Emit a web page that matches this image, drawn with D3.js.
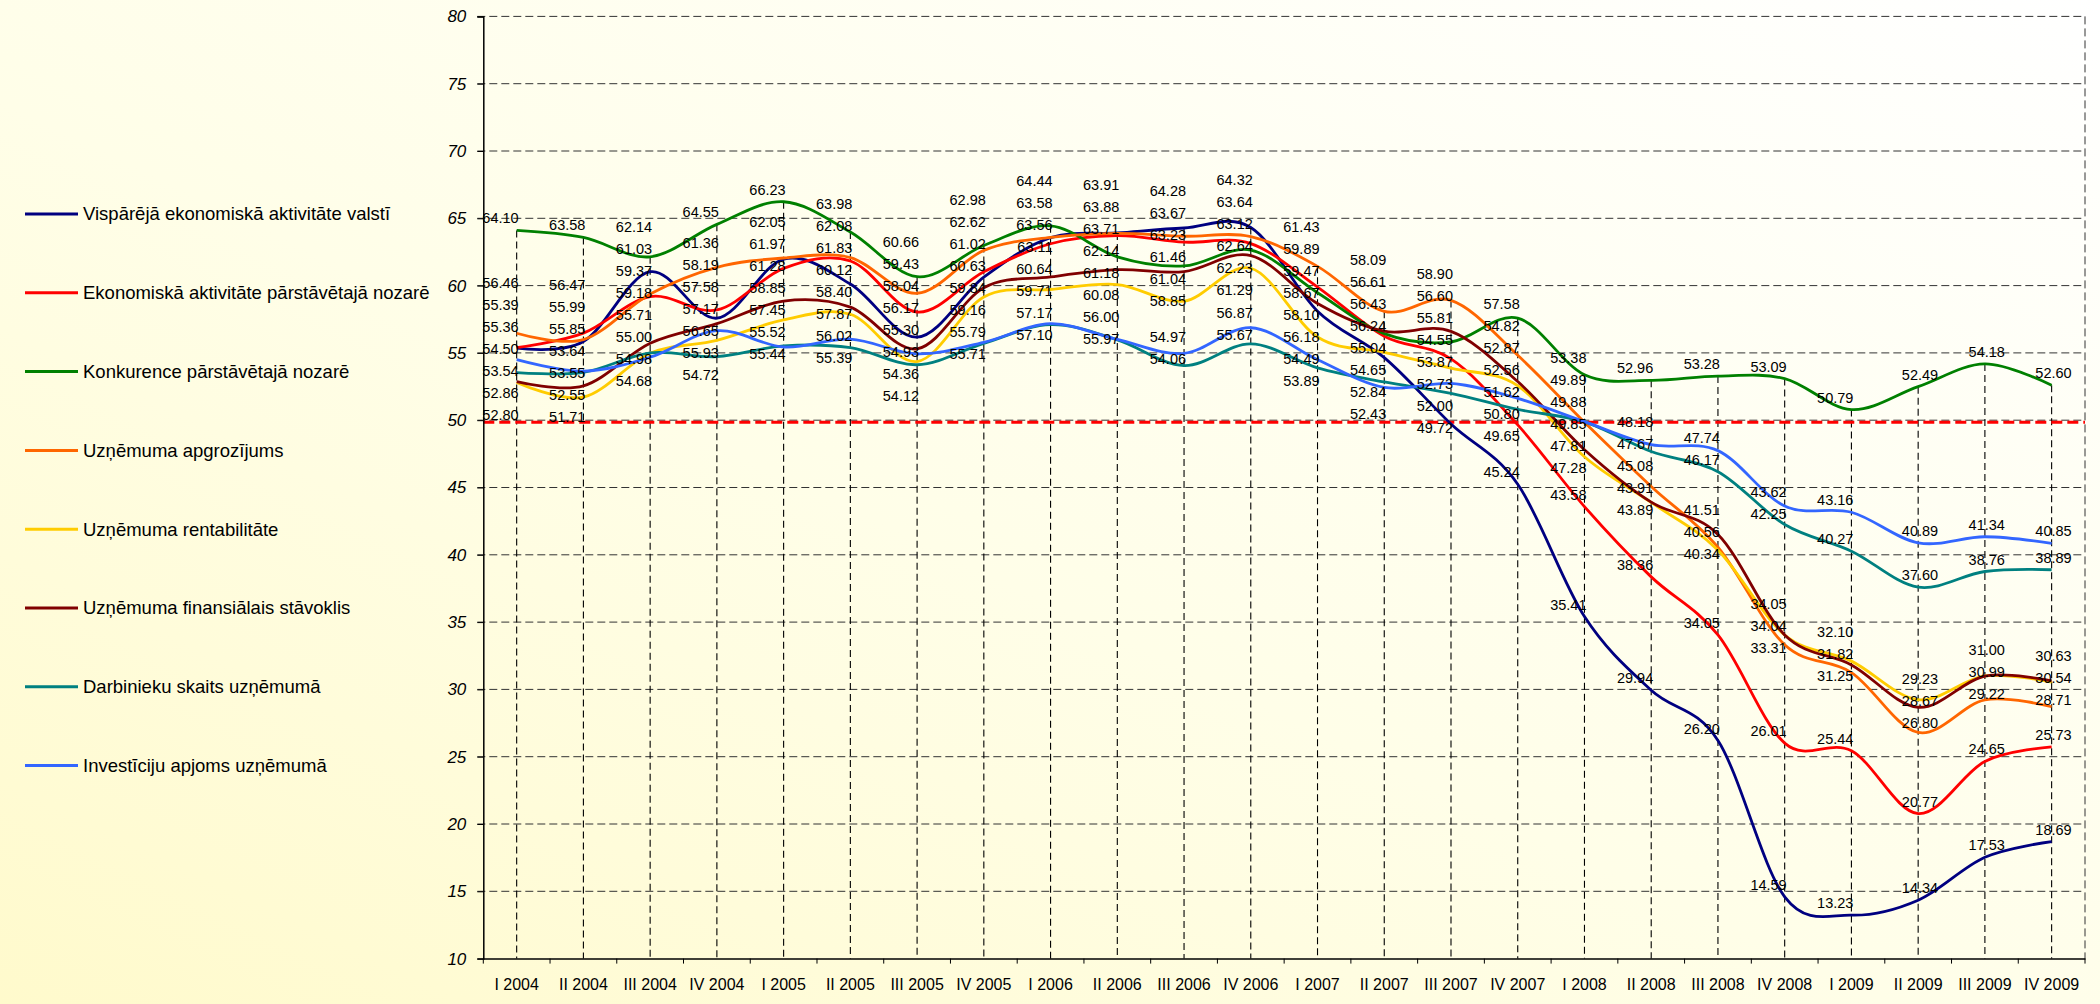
<!DOCTYPE html>
<html><head><meta charset="utf-8">
<script src="https://cdn.jsdelivr.net/npm/d3@7/dist/d3.min.js"></script>
<style>
html,body{margin:0;padding:0;overflow:hidden;background:#fff}
svg{display:block}
text{font-family:"Liberation Sans",Arial,sans-serif;fill:#000}
</style>
</head><body>
<svg id="chart" width="2100" height="1004"></svg>
<script>
// ---------------- DATA ----------------
const categories = ["I 2004","II 2004","III 2004","IV 2004","I 2005","II 2005","III 2005","IV 2005",
  "I 2006","II 2006","III 2006","IV 2006","I 2007","II 2007","III 2007","IV 2007",
  "I 2008","II 2008","III 2008","IV 2008","I 2009","II 2009","III 2009","IV 2009"];

const seriesNames = [
  "Vispārējā ekonomiskā aktivitāte valstī",
  "Ekonomiskā aktivitāte pārstāvētajā nozarē",
  "Konkurence pārstāvētajā nozarē",
  "Uzņēmuma apgrozījums",
  "Uzņēmuma rentabilitāte",
  "Uzņēmuma finansiālais stāvoklis",
  "Darbinieku skaits uzņēmumā",
  "Investīciju apjoms uzņēmumā"
];

const economyActivity = [55.36,55.85,61.03,57.58,61.97,60.12,56.17,60.63,63.56,63.91,64.28,64.32,58.10,54.65,49.72,45.24,35.41,29.94,26.20,14.59,13.23,14.34,17.53,18.69];
const sectorActivity  = [55.39,56.47,59.18,58.19,61.28,61.83,58.04,61.02,63.11,63.71,63.23,63.12,59.89,56.24,54.55,49.65,43.58,38.36,34.05,26.01,25.44,20.77,24.65,25.73];
const competition     = [64.10,63.58,62.14,64.55,66.23,63.98,60.66,62.98,64.44,62.14,61.46,62.64,59.47,56.43,55.81,57.58,53.38,52.96,53.28,53.09,50.79,52.49,54.18,52.60];
const turnover        = [56.46,55.99,59.37,61.36,62.05,62.08,59.43,62.62,63.58,63.88,63.67,63.64,61.43,58.09,58.90,54.82,49.85,45.08,40.56,33.31,31.25,26.80,29.22,28.71];
const profitability   = [52.80,51.71,54.98,55.93,57.45,57.87,54.36,59.16,59.71,60.08,58.85,61.29,56.18,55.04,53.87,52.56,47.28,43.89,40.34,34.04,32.10,29.23,31.00,30.54];
const financialState  = [52.86,52.55,55.71,57.17,58.85,58.40,55.30,59.84,60.64,61.18,61.04,62.23,58.67,56.61,56.60,52.87,47.81,43.91,41.51,34.05,31.82,28.67,30.99,30.63];
const employees       = [53.54,53.55,55.00,54.72,55.52,55.39,54.12,55.71,57.10,55.97,54.06,55.67,53.89,52.84,52.00,50.80,49.88,47.67,46.17,42.25,40.27,37.60,38.76,38.89];
const investment      = [54.50,53.64,54.68,56.65,55.44,56.02,54.93,55.79,57.17,56.00,54.97,56.87,54.49,52.43,52.73,51.62,49.89,48.18,47.74,43.62,43.16,40.89,41.34,40.85];

const yTicks = [10,15,20,25,30,35,40,45,50,55,60,65,70,75,80];
const thresholdValue = 50;

// ---------------- STYLE ----------------
const seriesColors = ["#000080","#FF0000","#008000","#FF6600","#FFCC00","#800000","#008080","#3366FF"];
const seriesValues = [economyActivity,sectorActivity,competition,turnover,profitability,financialState,employees,investment];
const series = seriesNames.map((n,k)=>({name:n, values:seriesValues[k], color:seriesColors[k]}));

const W = 2100, H = 1004;
const plot = {left:483.3, right:2085, top:16.4, bottom:958.6};

const svg = d3.select("#chart");
const defs = svg.append("defs");
const grad = defs.append("linearGradient").attr("id","bg")
  .attr("x1","0").attr("y1","1").attr("x2","1").attr("y2","0");
grad.append("stop").attr("offset","0").attr("stop-color","#FFFACC");
grad.append("stop").attr("offset","0.45").attr("stop-color","#FFFEE8");
grad.append("stop").attr("offset","1").attr("stop-color","#FFFFFF");
svg.append("rect").attr("width",W).attr("height",H).attr("fill","url(#bg)");

const x = d3.scaleBand().domain(categories).range([plot.left, plot.right]).padding(0);
const cx = c => x(c) + x.bandwidth()/2;
const y = d3.scaleLinear().domain([10,80]).range([plot.bottom, plot.top]);

// horizontal gridlines (with outside tick part)
const gGrid = svg.append("g");
gGrid.selectAll("line.h").data(yTicks.filter(t=>t!==10)).join("line")
  .attr("x1", plot.left-6).attr("x2", plot.right)
  .attr("y1", d=>y(d)).attr("y2", d=>y(d))
  .attr("stroke","#333").attr("stroke-width",1).attr("stroke-dasharray","8,4");
// right border
gGrid.append("line").attr("x1",plot.right).attr("x2",plot.right)
  .attr("y1",y(80)).attr("y2",y(10))
  .attr("stroke","#333").attr("stroke-width",1).attr("stroke-dasharray","8,4");

// drop lines from the highest point in each category
gGrid.selectAll("line.drop").data(categories).join("line")
  .attr("x1", c=>cx(c)).attr("x2", c=>cx(c))
  .attr("y1", (c,i)=>y(d3.max(series, s=>s.values[i])))
  .attr("y2", y(10))
  .attr("stroke","#000").attr("stroke-width",1.1).attr("stroke-dasharray","7,4");

// threshold line
svg.append("line").attr("x1",plot.left).attr("x2",plot.right)
  .attr("y1",y(thresholdValue)+2).attr("y2",y(thresholdValue)+2)
  .attr("stroke","#FF0000").attr("stroke-width",3).attr("stroke-dasharray","11,5");

// Y axis
const yAxis = d3.axisLeft(y).tickValues(yTicks).tickSize(6).tickPadding(11).tickFormat(d3.format("d"));
const gy = svg.append("g").attr("transform",`translate(${plot.left},0)`).call(yAxis);
gy.select(".domain").attr("stroke","#000").attr("stroke-width",1.5);
gy.selectAll(".tick line").attr("stroke","#000");
gy.selectAll(".tick text").attr("font-size","17px").attr("font-style","italic")
  .attr("font-family","'Liberation Sans',Arial,sans-serif").attr("fill","#000");

// X axis
const xAxis = d3.axisBottom(x).tickSize(0).tickPadding(20);
const gx = svg.append("g").attr("transform",`translate(0,${plot.bottom})`).call(xAxis);
gx.select(".domain").attr("stroke","#000").attr("stroke-width",1.5);
gx.selectAll(".tick text").attr("font-size","16px")
  .attr("font-family","'Liberation Sans',Arial,sans-serif").attr("fill","#000");
// tick marks at band boundaries
const bounds = categories.map(c=>x(c)).concat([x(categories[categories.length-1])+x.bandwidth()]);
svg.append("g").selectAll("line").data(bounds).join("line")
  .attr("x1",d=>d).attr("x2",d=>d).attr("y1",plot.bottom).attr("y2",plot.bottom+5)
  .attr("stroke","#000").attr("stroke-width",1);

// series lines
const line = d3.line().x((d,i)=>cx(categories[i])).y(d=>y(d)).curve(d3.curveCatmullRom.alpha(0));
svg.append("g").selectAll("path").data(series).join("path")
  .attr("d", s=>line(s.values))
  .attr("fill","none").attr("stroke",s=>s.color).attr("stroke-width",2.8)
  .attr("stroke-linejoin","round");

// data labels with simple collision avoidance
const LABEL_H = 22, LABEL_LIFT = 12;
const labels = [];
categories.forEach((c,i)=>{
  const items = series.map(s=>({v:s.values[i], d:y(s.values[i]) - LABEL_LIFT, cat:c, i}));
  items.sort((a,b)=>a.d-b.d);
  let clusters = items.map(it=>({items:[it], c:it.d}));
  let changed = true;
  while(changed){
    changed = false;
    for(let j=0;j<clusters.length-1;j++){
      const A = clusters[j], B = clusters[j+1];
      if (A.c + A.items.length*LABEL_H/2 > B.c - B.items.length*LABEL_H/2){
        const its = A.items.concat(B.items);
        clusters.splice(j,2,{items:its, c:d3.mean(its,t=>t.d)});
        changed = true; break;
      }
    }
  }
  clusters.forEach(cl=>{
    const top = cl.c - cl.items.length*LABEL_H/2;
    cl.items.forEach((t,k)=>{ t.ly = top + LABEL_H*(k+0.5); labels.push(t); });
  });
});
svg.append("g").selectAll("text").data(labels).join("text")
  .attr("x", d=>cx(d.cat) + 2 + (d.i>=21 ? 18 : 0))
  .attr("y", d=>d.ly).attr("dy","0.35em")
  .attr("text-anchor","end").attr("font-size","14.5px")
  .text(d=>d3.format(".2f")(d.v));

// legend
const lg = svg.append("g").selectAll("g").data(series).join("g")
  .attr("transform",(s,k)=>`translate(25,${214 + k*78.8})`);
lg.append("line").attr("x1",0).attr("x2",53).attr("y1",0).attr("y2",0)
  .attr("stroke",s=>s.color).attr("stroke-width",3);
lg.append("text").attr("x",58).attr("y",0).attr("dy","0.35em")
  .attr("font-size","18.5px").text(s=>s.name);
</script>
</body></html>
